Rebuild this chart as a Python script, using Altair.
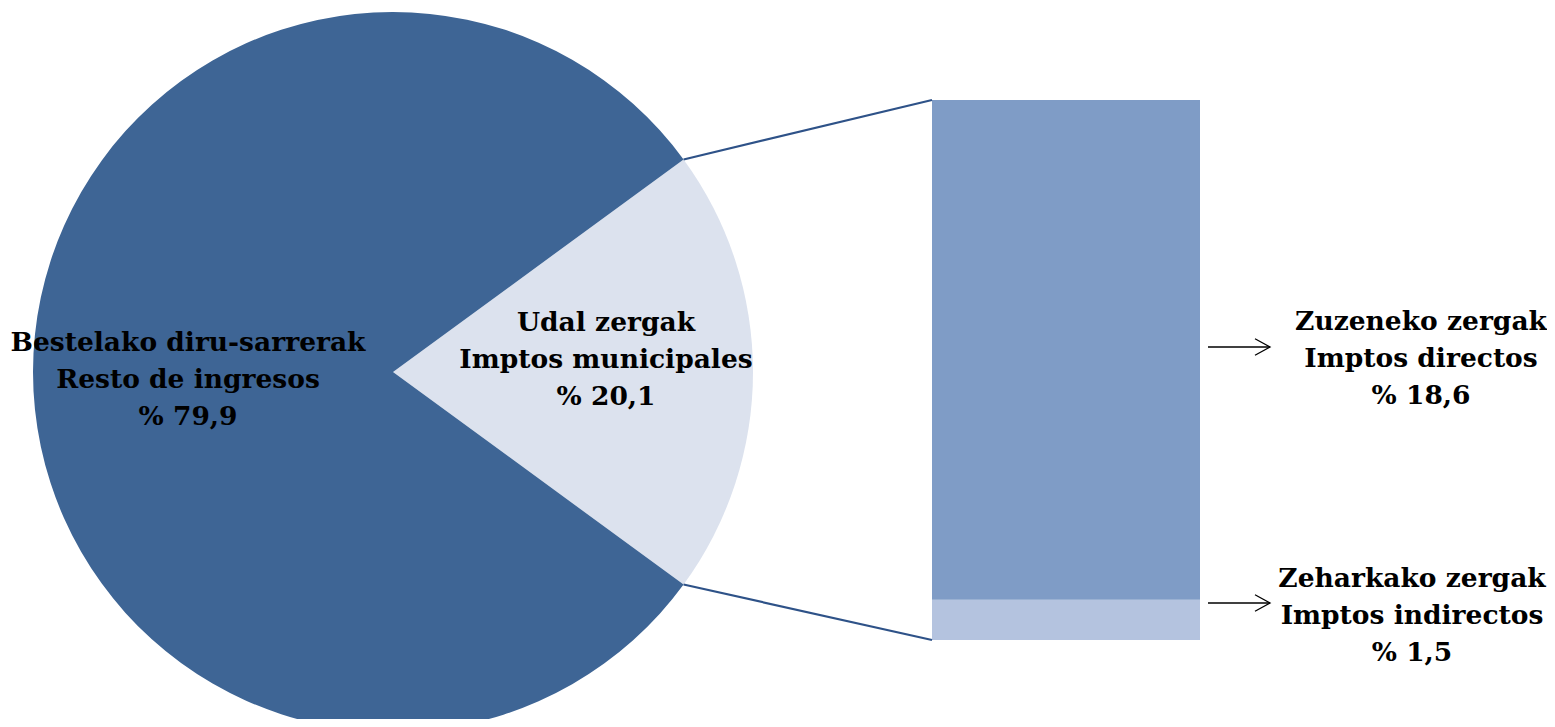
import math
import altair as alt
import pandas as pd

# ---- data ----
pie_categories = ["Udal zergak", "Bestelako diru-sarrerak"]
pie_values = [20.1, 79.9]
pie_labels = [
    ["Udal zergak", "Imptos municipales", "% 20,1"],
    ["Bestelako diru-sarrerak", "Resto de ingresos", "% 79,9"],
]
pie_colors = ["#DCE2EE", "#3E6595"]

bar_categories = ["Zeharkako zergak", "Zuzeneko zergak"]
bar_values = [1.5, 18.6]
bar_labels = [
    ["Zeharkako zergak", "Imptos indirectos", "% 1,5"],
    ["Zuzeneko zergak", "Imptos directos", "% 18,6"],
]
bar_colors = ["#B4C3DF", "#7F9CC6"]

# ---- layout ----
W, H = 1539, 711
CX, CY, R = 385, 364, 360
BAR_X0, BAR_X1 = 924, 1192
BAR_TOP, BAR_BOT = 92, 632
FONT = "DejaVu Serif"
FS = 26.5
LH = 37

total = sum(pie_values)
share = pie_values[0] / total
start = math.pi / 2 - share * math.pi  # center highlighted slice on the right

pie_df = pd.DataFrame({"cat": pie_categories, "value": pie_values, "order": [0, 1]})
pie = alt.Chart(pie_df).mark_arc(radius=R, stroke=None).encode(
    theta=alt.Theta("value:Q", stack=True,
                    scale=alt.Scale(range=[start, start + 2 * math.pi])),
    color=alt.Color("cat:N", scale=alt.Scale(domain=pie_categories, range=pie_colors), legend=None),
    order=alt.Order("order:Q"),
    x=alt.value(CX), y=alt.value(CY),
)

bar_df = pd.DataFrame({"cat": bar_categories, "value": bar_values, "order": [0, 1]})
bar_total = sum(bar_values)
bar = alt.Chart(bar_df).transform_stack(
    stack="value", groupby=[], as_=["v0", "v1"], sort=[alt.SortField("order", "ascending")]
).mark_rect().encode(
    x=alt.value(BAR_X0), x2=alt.value(BAR_X1),
    y=alt.Y("v0:Q", scale=alt.Scale(domain=[0, bar_total], range=[BAR_BOT, BAR_TOP]), axis=None),
    y2="v1:Q",
    color=alt.Color("cat:N", scale=alt.Scale(domain=bar_categories, range=bar_colors), legend=None),
)

# connectors from pie slice edges to bar corners
a1 = start
a2 = start + share * 2 * math.pi
conn_df = pd.DataFrame({
    "x": [CX + R * math.sin(a1), CX + R * math.sin(a2)],
    "y": [CY - R * math.cos(a1), CY - R * math.cos(a2)],
    "x2": [BAR_X0, BAR_X0],
    "y2": [BAR_TOP, BAR_BOT],
})
conn = alt.Chart(conn_df).mark_rule(color="#2E5288", strokeWidth=2.2).encode(
    x=alt.X("x:Q", scale=None), y=alt.Y("y:Q", scale=None),
    x2="x2:Q", y2="y2:Q",
)

arrow_df = pd.DataFrame({"x": [1200, 1200], "x2": [1262, 1262], "y": [339, 595]})
arrow_line = alt.Chart(arrow_df).mark_rule(color="black", strokeWidth=1.3).encode(
    x=alt.X("x:Q", scale=None), x2="x2:Q", y=alt.Y("y:Q", scale=None),
)
arrow_head = alt.Chart(arrow_df).mark_point(
    shape="M-1,-0.55L0,0L-1,0.55", filled=False, color="black", strokeWidth=1.3,
    size=900, opacity=1,
).encode(x=alt.X("x2:Q", scale=None), y=alt.Y("y:Q", scale=None))

# y = first-line position
label_df = pd.DataFrame({
    "text": [pie_labels[1], pie_labels[0], bar_labels[1], bar_labels[0]],
    "x": [180, 598, 1413, 1404],
    "y": [335, 315, 314, 571],
})
labels = alt.Chart(label_df).mark_text(
    font=FONT, fontSize=FS, fontWeight="bold", color="black",
    align="center", baseline="middle", lineHeight=LH,
).encode(x=alt.X("x:Q", scale=None), y=alt.Y("y:Q", scale=None), text="text")

chart = alt.layer(pie, bar, conn, arrow_line, arrow_head, labels).resolve_scale(
    color="independent", y="independent"
).properties(
    width=W, height=H, autosize=alt.AutoSizeParams(type="none"), padding=0
).configure_view(stroke=None)

chart.save("out.html", embed_options={"renderer": "svg", "actions": False})
